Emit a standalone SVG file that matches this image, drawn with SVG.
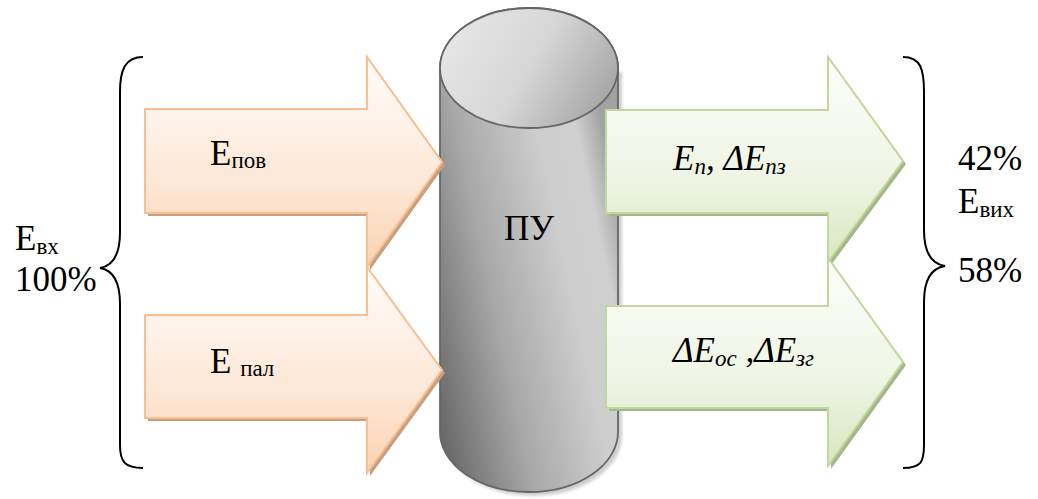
<svg xmlns="http://www.w3.org/2000/svg" width="1038" height="499" viewBox="0 0 1038 499">
<defs>
<linearGradient id="gOr" x1="0" y1="0" x2="0" y2="1">
<stop offset="0" stop-color="#fffcfa"/><stop offset="0.6" stop-color="#fde7d6"/><stop offset="1" stop-color="#fbd3b2"/>
</linearGradient>
<linearGradient id="gGr" x1="0" y1="0" x2="0" y2="1">
<stop offset="0" stop-color="#fdfefb"/><stop offset="0.6" stop-color="#eef4e3"/><stop offset="1" stop-color="#d8e6bf"/>
</linearGradient>
<linearGradient id="gBody" x1="0" y1="0.85" x2="0.95" y2="0.3">
<stop offset="0" stop-color="#6a6a6a"/><stop offset="0.35" stop-color="#a8a8a8"/><stop offset="0.7" stop-color="#cdcdcd"/><stop offset="0.88" stop-color="#cfcfcf"/><stop offset="1" stop-color="#a2a2a2"/>
</linearGradient>
<linearGradient id="gTop" x1="0" y1="0.3" x2="1" y2="0.7">
<stop offset="0" stop-color="#e6e6e6"/><stop offset="0.5" stop-color="#d6d6d6"/><stop offset="1" stop-color="#a4a4a4"/>
</linearGradient>
<filter id="blur" x="-10%" y="-10%" width="120%" height="120%"><feGaussianBlur stdDeviation="1.5"/></filter>
</defs>
<style>
text{font-family:'Liberation Serif','Times New Roman',Tinos,'DejaVu Serif','Noto Serif','Nimbus Roman','Nimbus Roman No9 L',FreeSerif,Times,serif;font-size:35px;fill:#000}
.s{font-size:23px}
.i{font-style:italic}
.brace{fill:none;stroke:#000;stroke-width:2}
.orS{fill:#c9a07f}
.or{fill:url(#gOr);stroke:#f8bf92;stroke-width:2}
.grS{fill:#a6b68c}
.gr{fill:url(#gGr);stroke:#c3d69b;stroke-width:2}
</style>

<g id="cylinder">
<path d="M444,72 L444,436 A89,60 0 0 0 622,436 L622,72 Z" fill="#cfcfcf" filter="url(#blur)"/>
<path d="M440,68 L440,432 A89,60 0 0 0 618,432 L618,68 A89,60 0 0 0 440,68 Z" fill="url(#gBody)" stroke="#666" stroke-width="1.8"/>
<ellipse cx="529" cy="68" rx="89" ry="60" fill="url(#gTop)" stroke="#666" stroke-width="1.8"/>
<text x="529" y="240" text-anchor="middle">ПУ</text>
</g>

<g id="arrow-pov">
<polygon class="orS" points="148,112 370,112 370,60 445,165 370,270 370,216 148,216"/>
<polygon class="or" points="145,109 367,109 367,57 442,162 367,267 367,213 145,213"/>
<text x="210" y="165">E<tspan class="s" dy="3">пов</tspan></text>
</g>

<g id="arrow-pal">
<polygon class="orS" points="148,318 370,318 370,270 445,373 370,476 370,421 148,421"/>
<polygon class="or" points="145,315 367,315 367,267 442,370 367,473 367,418 145,418"/>
<text x="210" y="373">E <tspan class="s" dy="3">пал</tspan></text>
</g>

<g id="arrow-out1">
<polygon class="grS" points="609,113 831,113 831,60 906,164 831,265 831,216 609,216"/>
<polygon class="gr" points="606,110 828,110 828,57 903,161 828,262 828,213 606,213"/>
<text class="i" x="673" y="170">E<tspan class="s" dy="4">п</tspan><tspan dy="-4">, ΔE</tspan><tspan class="s" dy="4">пз</tspan></text>
</g>

<g id="arrow-out2">
<polygon class="grS" points="609,309 831,309 831,261 906,365 831,469 831,411 609,411"/>
<polygon class="gr" points="606,306 828,306 828,258 903,362 828,466 828,408 606,408"/>
<text class="i" x="673" y="362">ΔE<tspan class="s" dy="4">ос</tspan><tspan dy="-4"> ,ΔE</tspan><tspan class="s" dy="4">зг</tspan></text>
</g>

<g id="connectors">
<path class="brace" d="M143,57 C125,57 120,70 120,92 L120,232 C120,256 112,266 100,268 C112,270 120,280 120,304 L120,445 C120,462 125,468 143,468"/>
<path class="brace" d="M903,57 C921,57 924,70 924,92 L924,230 C924,254 932,264 945,266 C932,268 924,278 924,302 L924,445 C924,462 921,468 903,468"/>
</g>

<g id="labels">
<text x="15" y="250">E<tspan class="s" dy="4">вх</tspan></text>
<text x="15" y="291">100%</text>
<text x="958" y="170">42%</text>
<text x="958" y="213">E<tspan class="s" dy="4">вих</tspan></text>
<text x="958" y="282">58%</text>
</g>
</svg>
